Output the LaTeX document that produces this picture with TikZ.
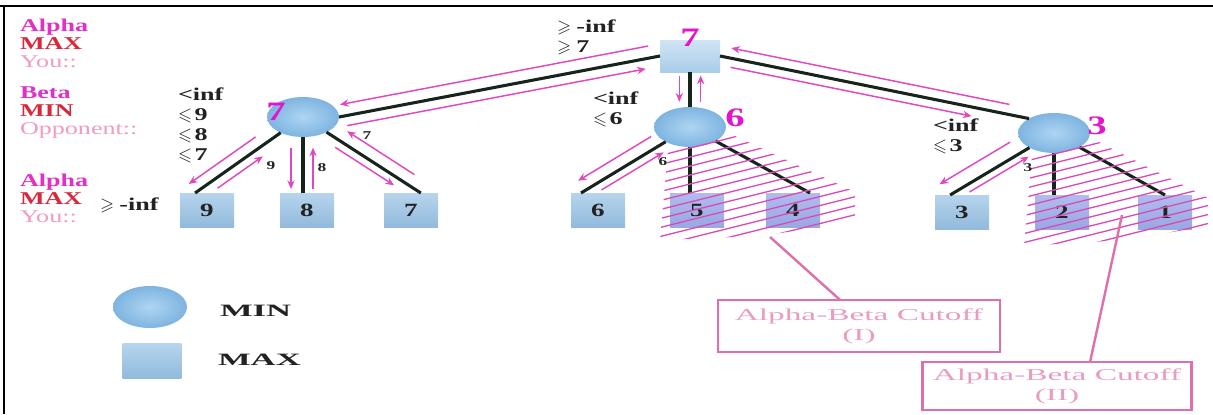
\documentclass[tikz,border=0pt]{standalone}
\usepackage{fontspec}
\setmainfont{Liberation Serif}[FakeStretch=1.45]
\newfontfamily\widefont{Liberation Serif}[FakeStretch=2.0]
\usepackage{amssymb}
\usetikzlibrary{calc,arrows.meta,shapes.geometric}
\definecolor{alphac}{HTML}{E030C8}
\definecolor{maxc}{HTML}{D8283C}
\definecolor{youc}{HTML}{F29AC0}
\definecolor{edgec}{HTML}{16241C}
\definecolor{arrc}{HTML}{E048C0}
\definecolor{numc}{HTML}{E414CC}
\definecolor{leafT}{HTML}{B6D4EC}
\definecolor{leafB}{HTML}{92BADC}
\definecolor{cutT}{HTML}{B0BCEE}
\definecolor{cutB}{HTML}{98A8E2}
\definecolor{minI}{HTML}{AED5F2}
\definecolor{minO}{HTML}{7EB4E0}
\definecolor{rootT}{HTML}{CFE4F4}
\definecolor{rootB}{HTML}{A9CDE9}
\definecolor{boxc}{HTML}{DE6FAA}
\definecolor{boxtxt}{HTML}{E99CC2}
\definecolor{hatchc}{HTML}{D84CB8}
\definecolor{labc}{HTML}{222222}
\newcommand\pa[6]{%
  \path ($(#1)!#5!90:(#2)$) coordinate (pA) ($(#2)!#5!-90:(#1)$) coordinate (pB);
  \draw[marr,#6] ($(pA)!#3!(pB)$) -- ($(pA)!#4!(pB)$);}
\newcommand\gsl{\ensuremath{\geqslant}\hspace{4pt}}
\newcommand\lsl{\ensuremath{\leqslant}\hspace{2pt}}
\begin{document}
\begin{tikzpicture}[x=0.75pt,y=-0.75pt,
  every node/.style={inner sep=0pt, outer sep=0pt},
  maxnode/.style={rectangle, minimum width=40.5pt, minimum height=25.5pt, top color=leafT, bottom color=leafB, text=labc, font=\fontsize{14}{15}\selectfont\bfseries},
  cutnode/.style={maxnode, top color=cutT, bottom color=cutB},
  minnode/.style={ellipse, minimum width=54pt, minimum height=30pt, inner color=minI, outer color=minO},
  blk/.style={draw=edgec, line width=2.3pt},
  marr/.style={draw=arrc, line width=1.1pt},
  dn/.style={-{Stealth[length=6.5pt,width=5.5pt]}},
  up/.style={{Stealth[length=6.5pt,width=5.5pt]}-},
  lab/.style={text=labc, font=\fontsize{13.5}{15}\selectfont\bfseries, align=left, anchor=west},
  side/.style={font=\fontsize{13.5}{13.5}\selectfont\bfseries, align=left, anchor=west},
  bignum/.style={text=numc, font=\fontsize{20}{20}\selectfont\bfseries},
  small/.style={text=labc, font=\fontsize{9}{9}\selectfont\bfseries},
  hatch/.style={draw=hatchc, line width=1pt},
  cbox/.style={draw=boxc, line width=2pt, text=boxtxt, align=center, font=\widefont\fontsize{12.5}{15}\selectfont},
  cline/.style={draw=boxc, line width=1.8pt},
  legtxt/.style={text=labc, anchor=west, font=\widefont\fontsize{13}{13}\selectfont\bfseries}]
\useasboundingbox (0,0) rectangle (1213,414);
% frame
\draw[line width=1.5pt] (0,6) -- (1213,6);
\draw[line width=1.2pt] (4,6) -- (4,414);
% nodes
\node[maxnode, minimum width=45pt, minimum height=24pt, top color=rootT, bottom color=rootB] (root) at (690,56) {};
\node[minnode] (L) at (303,117) {};
\node[minnode] (M) at (690,127) {};
\node[minnode] (R) at (1054,133) {};
\node[maxnode] (l9) at (207,210) {9};
\node[maxnode] (l8) at (307,210) {8};
\node[maxnode] (l7) at (411,210) {7};
\node[maxnode] (l6) at (598,210) {6};
\node[cutnode] (l5) at (697,210) {5};
\node[cutnode] (l4) at (793,210) {4};
\node[maxnode] (l3) at (962,212) {3};
\node[cutnode] (l2) at (1062,212) {2};
\node[cutnode] (l1) at (1165,212) {1};
\coordinate (l8top) at (L.south |- l8.north);
\coordinate (l5top) at (M.south |- l5.north);
\coordinate (l2top) at (R.south |- l2.north);
% black edges
\draw[blk] (root.west) -- (L.east);
\draw[blk] (root.east) -- (R.150);
\draw[blk] (root.south) -- (M.north);
\draw[blk] (L) -- (l9.125);
\draw[blk] (L.south) -- (l8top);
\draw[blk] (L) -- (l7.60);
\draw[blk] (M) -- (l6.135);
\draw[blk] (M.south) -- (l5top);
\draw[blk] (M) -- (l4.45);
\draw[blk] (R) -- (l3.125);
\draw[blk] (R.south) -- (l2top);
\draw[blk] (R) -- (l1.north);
% magenta arrows
\pa{root.west}{L.east}{0.03}{0.99}{-9pt}{dn}
\pa{root.west}{L.east}{0.05}{0.98}{7.5pt}{up}
\pa{root.east}{R.150}{0.03}{0.93}{7.5pt}{up}
\pa{root.east}{R.150}{0.04}{0.82}{-6.75pt}{dn}
\pa{root.south}{M.north}{0.1}{0.85}{-8pt}{dn}
\pa{root.south}{M.north}{0.1}{0.85}{8pt}{up}
\pa{L}{l9.125}{0.38}{1.0}{-8.25pt}{dn}
\pa{L}{l9.125}{0.42}{0.84}{6.75pt}{up}
\pa{L.south}{l8top}{0.19}{0.93}{-9pt}{dn}
\pa{L.south}{l8top}{0.19}{0.93}{7.5pt}{up}
\pa{L}{l7.60}{0.31}{0.81}{-6pt}{dn}
\pa{L}{l7.60}{0.32}{0.89}{9pt}{up}
\pa{M}{l6.135}{0.30}{0.97}{-9pt}{dn}
\pa{M}{l6.135}{0.28}{0.85}{6pt}{up}
\pa{R}{l3.125}{0.35}{1.03}{-11pt}{dn}
\pa{R}{l3.125}{0.28}{0.85}{5.5pt}{up}
% hatching
\begin{scope}
\clip (668,150) -- (735,136) -- (855,192) -- (855,222) -- (760,236) -- (660,240) -- cycle;
\foreach \c in {140,149,...,310} \draw[hatch] (650,\c) -- ++(220,-55);
\end{scope}
\begin{scope}
\clip (1032,156) -- (1099,142) -- (1208,198) -- (1208,226) -- (1124,240) -- (1024,246) -- cycle;
\foreach \c in {146,155,...,316} \draw[hatch] (1014,\c) -- ++(220,-55);
\end{scope}
% big values
\node[bignum] (v0) at (690,38) {7};
\node[bignum] (v1) at (276,112) {7};
\node[bignum] (v2) at (735,118) {6};
\node[bignum] (v3) at (1097,126) {3};
% small edge values
\node[small] (e9) at (271,166) {9};
\node[small] (e8) at (322,168) {8};
\node[small] (e7) at (367,136) {7};
\node[small] (e6) at (663,162) {6};
\node[small] (e3) at (1028,168) {3};
% bounds
\node[lab] (b0) at (557,37) {\gsl-inf\\\gsl7};
\node[lab] (b1) at (178,125) {<inf\\\lsl9\\\lsl8\\\lsl7};
\node[lab] (b2) at (593,109) {<inf\\\lsl6};
\node[lab] (b3) at (933,136) {<inf\\\lsl3};
\node[lab] (b4) at (100,205) {\gsl-inf};
% side column
\node[side] (s1) at (20,43) {\textcolor{alphac}{Alpha}\\\textcolor{maxc}{MAX}\\\textcolor{youc}{\mdseries You::}};
\node[side] (s2) at (20,113) {\textcolor{alphac}{Beta}\\\textcolor{maxc}{MIN}\\\textcolor{youc}{\mdseries Opponent::}};
\node[side] (s3) at (20,198) {\textcolor{alphac}{Alpha}\\\textcolor{maxc}{MAX}\\\textcolor{youc}{\mdseries You::}};
% legend
\node[minnode, minimum width=55.5pt, minimum height=31.5pt] (legmin) at (150,307) {};
\node[maxnode, minimum width=44pt, minimum height=26pt] (legmax) at (152,361) {};
\node[legtxt] (tmin) at (220,311) {MIN};
\node[legtxt] (tmax) at (218,360) {MAX};
% callouts
\node[cbox, minimum width=211.5pt, minimum height=39pt] (box1) at (859,326) {Alpha-Beta Cutoff\\(I)};
\node[cbox, minimum width=202pt, minimum height=36pt] (box2) at (1057,386) {Alpha-Beta Cutoff\\(II)};
\coordinate (cut1) at (770,237);
\coordinate (cut2) at (1122,215);
\draw[cline] (cut1) -- (box1.126);
\draw[cline] (cut2) -- (box2.36);
\end{tikzpicture}
\end{document}
